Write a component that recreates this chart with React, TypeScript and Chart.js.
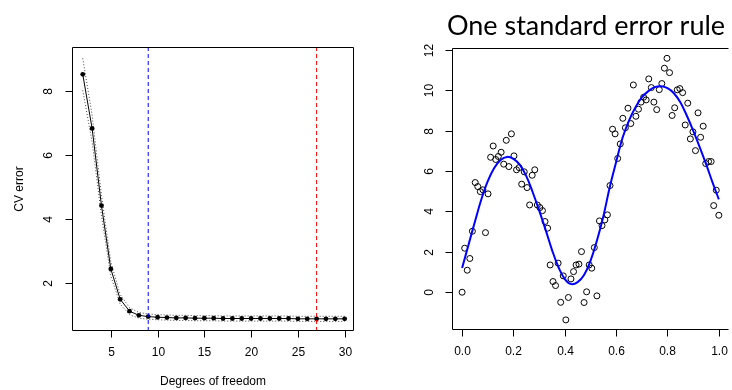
import React, { useEffect, useRef } from "react";
import { Chart, registerables } from "chart.js";
Chart.register(...registerables);

// ---------- Left panel: CV error vs degrees of freedom ----------
const DF = [2, 3, 4, 5, 6, 7, 8, 9, 10, 11, 12, 13, 14, 15, 16, 17, 18, 19, 20, 21, 22, 23, 24, 25, 26, 27, 28, 29, 30];
const CV_ERROR = [8.52, 6.83, 4.42, 2.44, 1.49, 1.12, 0.99, 0.95, 0.93, 0.92, 0.91, 0.91, 0.9, 0.9, 0.9, 0.89, 0.89, 0.89, 0.89, 0.89, 0.89, 0.89, 0.89, 0.88, 0.88, 0.88, 0.88, 0.88, 0.88];
const CV_SE = [0.5, 0.42, 0.32, 0.22, 0.15, 0.11, 0.09, 0.08, 0.08, 0.08, 0.08, 0.08, 0.08, 0.08, 0.08, 0.08, 0.08, 0.08, 0.08, 0.08, 0.08, 0.08, 0.08, 0.08, 0.08, 0.08, 0.08, 0.08, 0.08];
const BEST_DF_1SE = 9;
const BEST_DF_MIN = 27;
const DF_TICKS = [5, 10, 15, 20, 25, 30];
const CV_TICKS = [2, 4, 6, 8];

// ---------- Right panel: data and one-SE smoothing spline fit ----------
const X_OBS = [0, 0.01, 0.02, 0.03, 0.04, 0.051, 0.061, 0.071, 0.081, 0.091,
  0.101, 0.111, 0.121, 0.131, 0.141, 0.152, 0.162, 0.172, 0.182, 0.192,
  0.202, 0.212, 0.222, 0.232, 0.242, 0.253, 0.263, 0.273, 0.283, 0.293,
  0.303, 0.313, 0.323, 0.333, 0.343, 0.354, 0.364, 0.374, 0.384, 0.394,
  0.404, 0.414, 0.424, 0.434, 0.444, 0.455, 0.465, 0.475, 0.485, 0.495,
  0.505, 0.515, 0.525, 0.535, 0.545, 0.556, 0.566, 0.576, 0.586, 0.596,
  0.606, 0.616, 0.626, 0.636, 0.646, 0.657, 0.667, 0.677, 0.687, 0.697,
  0.707, 0.717, 0.727, 0.737, 0.747, 0.758, 0.768, 0.778, 0.788, 0.798,
  0.808, 0.818, 0.828, 0.838, 0.848, 0.859, 0.869, 0.879, 0.889, 0.899,
  0.909, 0.919, 0.929, 0.939, 0.949, 0.96, 0.97, 0.98, 0.99, 1.0];
const Y_OBS = [0.0, 2.18, 1.09, 1.67, 3.02, 5.43, 5.23, 4.98, 5.07, 2.95,
  4.87, 6.68, 7.24, 6.57, 6.72, 6.93, 6.34, 7.52, 6.22, 7.84,
  6.75, 6.06, 6.17, 5.35, 5.96, 5.18, 4.32, 5.79, 6.06, 4.32,
  4.19, 4.04, 3.5, 3.17, 1.35, 0.53, 0.33, 1.44, -0.5, 0.81,
  -1.37, -0.26, 0.66, 1.02, 1.35, 1.39, 2.01, -0.51, 0.02, 1.35,
  1.19, 2.21, -0.18, 3.53, 3.3, 3.58, 3.83, 5.28, 8.07, 7.84,
  6.62, 7.34, 8.61, 8.14, 9.11, 8.35, 10.26, 8.71, 9.06, 9.41,
  9.65, 9.52, 10.56, 10.13, 9.41, 9.04, 10.03, 10.33, 11.09, 11.58,
  10.87, 8.75, 9.13, 10.02, 10.08, 9.88, 8.28, 9.36, 7.59, 7.94,
  7.01, 8.88, 7.67, 8.22, 6.37, 6.47, 6.47, 4.29, 5.05, 3.81];
const FIT_X = [0, 0.025, 0.05, 0.075, 0.1, 0.125, 0.15, 0.175, 0.2, 0.225, 0.25, 0.275, 0.3, 0.325, 0.35, 0.375, 0.4, 0.425, 0.45, 0.475, 0.5, 0.525, 0.55, 0.575, 0.6, 0.625, 0.65, 0.675, 0.7, 0.725, 0.75, 0.775, 0.8, 0.825, 0.85, 0.875, 0.9, 0.925, 0.95, 0.975, 1.0];
const FIT_Y = [1.2, 2.35, 3.5, 4.6, 5.5, 6.15, 6.55, 6.7, 6.6, 6.3, 5.75, 4.95, 4.05, 3.1, 2.1, 1.25, 0.65, 0.4, 0.5, 0.85, 1.55, 2.55, 3.75, 5.2, 6.45, 7.65, 8.5, 9.15, 9.65, 9.95, 10.15, 10.2, 10.1, 9.85, 9.4, 8.75, 8.0, 7.2, 6.35, 5.45, 4.6];
const X_TICKS = [0, 0.2, 0.4, 0.6, 0.8, 1.0];
const X_TICK_LABELS = ["0.0", "0.2", "0.4", "0.6", "0.8", "1.0"];
const Y_TICKS = [0, 2, 4, 6, 8, 10, 12];
const TITLE = "One standard error rule";

const FONT = "'Liberation Sans', Arial, sans-serif";

type AxesOpts = {
  xTicks: number[]; xLabels: string[]; yTicks: number[]; yLabels: string[];
  xLabelY: number; yLabelX: number; xTitle?: string; xTitleY?: number;
  yTitle?: string; yTitleX?: number; title?: string; titleX?: number; titleY?: number;
  drawRight: boolean; fontSize: number;
};

function rAxesPlugin(o: AxesOpts) {
  return {
    id: "rAxes",
    afterDraw(chart: any) {
      const { ctx, chartArea: a, scales } = chart;
      const xs = scales.x, ys = scales.y;
      ctx.save();
      ctx.strokeStyle = "#000";
      ctx.lineWidth = 1;
      const L = Math.round(a.left) + 0.5, R = Math.round(a.right) - 0.5;
      const T = Math.round(a.top) + 0.5, B = Math.round(a.bottom) - 0.5;
      ctx.beginPath();
      ctx.moveTo(R + (o.drawRight ? 0 : 2), T);
      ctx.lineTo(L, T);
      ctx.lineTo(L, B);
      ctx.lineTo(R + (o.drawRight ? 0 : 2), B);
      if (o.drawRight) { ctx.lineTo(R, T); }
      ctx.stroke();
      ctx.fillStyle = "#000";
      ctx.font = `${o.fontSize}px ${FONT}`;
      // x ticks
      ctx.textAlign = "center";
      ctx.textBaseline = "middle";
      o.xTicks.forEach((v, i) => {
        const px = Math.round(xs.getPixelForValue(v)) + 0.5;
        ctx.beginPath(); ctx.moveTo(px, B); ctx.lineTo(px, B + 7); ctx.stroke();
        ctx.fillText(o.xLabels[i], px, o.xLabelY);
      });
      // y ticks
      o.yTicks.forEach((v, i) => {
        const py = Math.round(ys.getPixelForValue(v)) + 0.5;
        ctx.beginPath(); ctx.moveTo(L, py); ctx.lineTo(L - 7, py); ctx.stroke();
        ctx.save();
        ctx.translate(o.yLabelX, py);
        ctx.rotate(-Math.PI / 2);
        ctx.fillText(o.yLabels[i], 0, 0);
        ctx.restore();
      });
      if (o.xTitle) ctx.fillText(o.xTitle, (a.left + a.right) / 2, o.xTitleY!);
      if (o.yTitle) {
        ctx.save();
        ctx.translate(o.yTitleX!, (a.top + a.bottom) / 2);
        ctx.rotate(-Math.PI / 2);
        ctx.fillText(o.yTitle, 0, 0);
        ctx.restore();
      }
      if (o.title) {
        ctx.font = `27px Lato, 'Open Sans', sans-serif`;
        ctx.textBaseline = "alphabetic";
        ctx.fillText(o.title, o.titleX!, o.titleY!);
      }
      ctx.restore();
    },
  };
}

export default function App() {
  const leftRef = useRef<HTMLCanvasElement>(null);
  const rightRef = useRef<HTMLCanvasElement>(null);

  useEffect(() => {
    const yMinL = 0.5, yMaxL = 9.375;
    const left = new Chart(leftRef.current!, {
      type: "scatter",
      data: {
        datasets: [
          {
            data: [{ x: BEST_DF_1SE, y: yMinL }, { x: BEST_DF_1SE, y: yMaxL }],
            showLine: true, borderColor: "#0000ff", borderWidth: 1, borderDash: [4, 3], pointRadius: 0,
          },
          {
            data: [{ x: BEST_DF_MIN, y: yMinL }, { x: BEST_DF_MIN, y: yMaxL }],
            showLine: true, borderColor: "#ff0000", borderWidth: 1, borderDash: [4, 3], pointRadius: 0,
          },
          {
            data: DF.map((d, i) => ({ x: d, y: CV_ERROR[i] })),
            showLine: true, borderColor: "#000", borderWidth: 1, pointRadius: 2.4,
            pointBackgroundColor: "#000", pointBorderColor: "#000", pointBorderWidth: 0,
          },
          {
            data: DF.map((d, i) => ({ x: d, y: CV_ERROR[i] + CV_SE[i] })),
            showLine: true, borderColor: "#444", borderWidth: 1, borderDash: [1, 2], pointRadius: 0,
          },
          {
            data: DF.map((d, i) => ({ x: d, y: CV_ERROR[i] - CV_SE[i] })),
            showLine: true, borderColor: "#444", borderWidth: 1, borderDash: [1, 2], pointRadius: 0,
          },
        ],
      },
      options: {
        animation: false, responsive: true, maintainAspectRatio: false, events: [],
        layout: { padding: { left: 72, right: 12, top: 47, bottom: 59 } },
        scales: {
          x: { type: "linear", min: 0.85, max: 31.0, display: false },
          y: { type: "linear", min: yMinL, max: yMaxL, display: false },
        },
        plugins: { legend: { display: false }, tooltip: { enabled: false } },
      },
      plugins: [rAxesPlugin({
        xTicks: DF_TICKS, xLabels: DF_TICKS.map(String), yTicks: CV_TICKS, yLabels: CV_TICKS.map(String),
        xLabelY: 353, yLabelX: 49, xTitle: "Degrees of freedom", xTitleY: 382, yTitle: "CV error", yTitleX: 20,
        drawRight: true, fontSize: 12,
      })],
    } as any);

    const right = new Chart(rightRef.current!, {
      type: "scatter",
      data: {
        datasets: [
          {
            data: FIT_X.map((x, i) => ({ x, y: FIT_Y[i] })),
            showLine: true, borderColor: "#0000ff", borderWidth: 2, pointRadius: 0, tension: 0.4,
          },
          {
            data: X_OBS.map((x, i) => ({ x, y: Y_OBS[i] })),
            showLine: false, pointRadius: 3, pointBackgroundColor: "rgba(0,0,0,0)",
            pointBorderColor: "#000", pointBorderWidth: 1,
          },
        ],
      },
      options: {
        animation: false, responsive: true, maintainAspectRatio: false, events: [],
        layout: { padding: { left: 86, right: 0, top: 48, bottom: 60 } },
        scales: {
          x: { type: "linear", min: -0.0394, max: 1.0318, display: false },
          y: { type: "linear", min: -1.87, max: 12.09, display: false },
        },
        plugins: { legend: { display: false }, tooltip: { enabled: false } },
      },
      plugins: [rAxesPlugin({
        xTicks: X_TICKS, xLabels: X_TICK_LABELS, yTicks: Y_TICKS, yLabels: Y_TICKS.map(String),
        xLabelY: 352, yLabelX: 64, title: TITLE, titleX: 220, titleY: 35,
        drawRight: false, fontSize: 12,
      })],
    } as any);

    return () => { left.destroy(); right.destroy(); };
  }, []);

  return (
    <div style={{ position: "fixed", left: 0, top: 0, width: 732, height: 390, background: "#fff" }}>
      <div style={{ position: "absolute", left: 0, top: 0, width: 366, height: 390 }}>
        <canvas ref={leftRef} />
      </div>
      <div style={{ position: "absolute", left: 366, top: 0, width: 366, height: 390 }}>
        <canvas ref={rightRef} />
      </div>
    </div>
  );
}
